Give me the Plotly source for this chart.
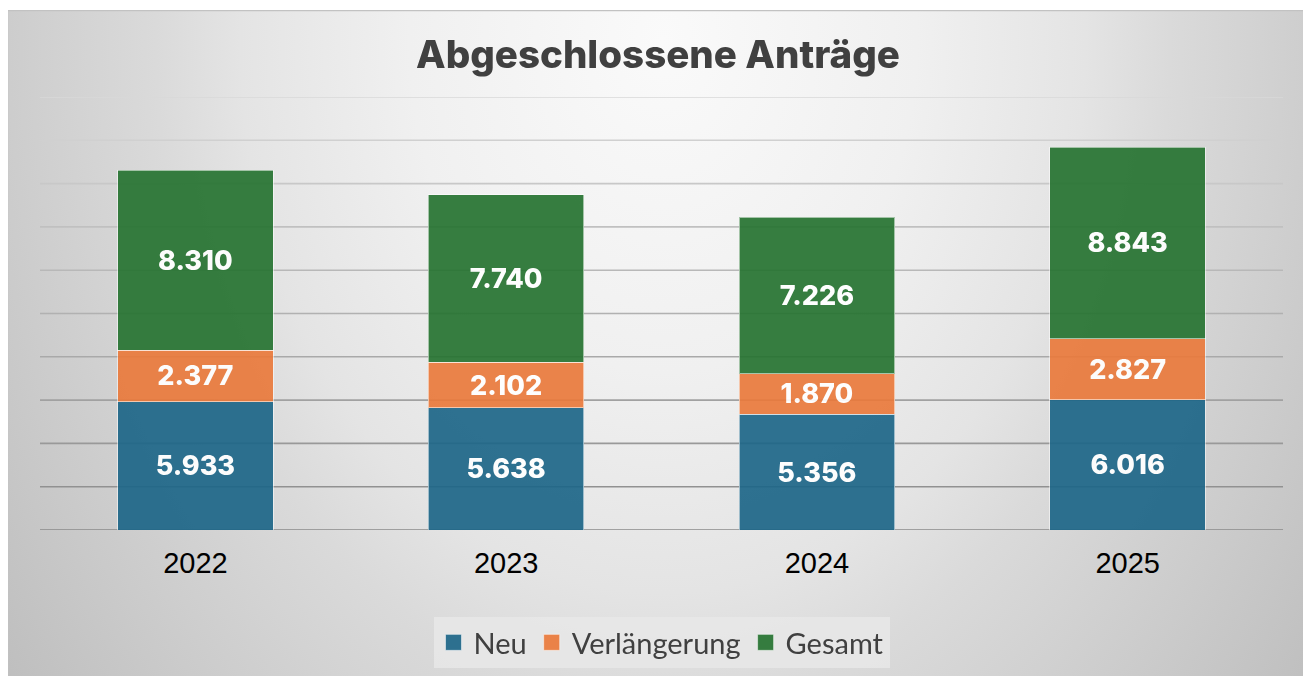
import base64
import plotly.graph_objects as go

# ── Daten ────────────────────────────────────────────────────────────────────
JAHRE = ["2022", "2023", "2024", "2025"]
NEU = [5933, 5638, 5356, 6016]
VERLAENGERUNG = [2377, 2102, 1870, 2827]
GESAMT = [8310, 7740, 7226, 8843]

GRID_TICKS = list(range(0, 20001, 2000))

FARBEN = {"Neu": "#1d6688", "Verlängerung": "#ea7a3b", "Gesamt": "#267331"}

# ── Hintergrund (radialer Verlauf wie im Original) ───────────────────────────
svg = (
    "<svg xmlns='http://www.w3.org/2000/svg' width='1304' height='666' "
    "viewBox='0 0 1304 666' preserveAspectRatio='none'>"
    "<defs><radialGradient id='g' gradientUnits='userSpaceOnUse' cx='652' cy='30' r='840' "
    "gradientTransform='translate(652,30) scale(1,1.3) translate(-652,-30)'>"
    "<stop offset='0' stop-color='#fafafa'/>"
    "<stop offset='0.3' stop-color='#f0f0f0'/>"
    "<stop offset='0.5' stop-color='#e4e4e4'/>"
    "<stop offset='0.6' stop-color='#dadada'/>"
    "<stop offset='0.8' stop-color='#cbcbcb'/>"
    "<stop offset='1' stop-color='#bcbcbc'/>"
    "</radialGradient></defs>"
    "<rect width='1304' height='666' fill='url(#g)'/>"
    "<path d='M0.5,666V0.5H1304' stroke='#c2c2c2' stroke-width='1.5' fill='none'/>"
    "</svg>"
)
bg_src = "data:image/svg+xml;base64," + base64.b64encode(svg.encode()).decode()

# Plotbereich in Pixeln (Seite hat 8px Rand, daher verschoben)
L, R, T, B = 32, 36, 89, 154
W, H = 1311, 676
pw, ph = W - L - R, H - T - B

fig = go.Figure()

for name, werte in [("Neu", NEU), ("Verlängerung", VERLAENGERUNG), ("Gesamt", GESAMT)]:
    fig.add_trace(go.Bar(
        x=JAHRE, y=werte, name=name, legendgroup=name, showlegend=False,
        marker=dict(color=FARBEN[name], line=dict(color="rgba(255,255,255,0.55)", width=1)),
        opacity=0.92,
        texttemplate="%{y:,.0f}",
        textposition="inside",
        insidetextanchor="middle",
        textangle=0,
        textfont=dict(family="Inter", size=27, color="white", weight=800),
    ))

# Legendeneinträge mit größeren Quadraten
for name in ["Neu", "Verlängerung", "Gesamt"]:
    fig.add_trace(go.Scatter(
        x=[None], y=[None], mode="markers", name=name, legendgroup=name,
        marker=dict(symbol="square", size=16, color=FARBEN[name], opacity=0.92,
                    line=dict(color="rgba(255,255,255,0.5)", width=1)),
    ))

# Gitterlinien: unten dunkler, oben heller
n = len(GRID_TICKS) - 1
for i, v in enumerate(GRID_TICKS):
    f = i / n
    c = int(0x8a + (0xd8 - 0x8a) * f)
    fig.add_shape(
        type="line", xref="paper", yref="y", x0=0, x1=1, y0=v, y1=v,
        line=dict(color=f"rgb({c},{c},{c})", width=1.6), layer="below",
    )

fig.add_layout_image(
    source=bg_src, xref="paper", yref="paper",
    x=(-1 - L) / pw, y=(H - B - 2) / ph,
    sizex=(W + 1) / pw, sizey=(H - 2) / ph,
    xanchor="left", yanchor="top", sizing="stretch", layer="below",
)

fig.update_layout(
    width=W, height=H,
    margin=dict(l=L, r=R, t=T, b=B, pad=0),
    barmode="stack",
    bargap=0.5,
    separators=",.",
    paper_bgcolor="white",
    plot_bgcolor="rgba(0,0,0,0)",
    title=dict(
        text="Abgeschlossene Anträge",
        x=(658 - 8) / W, xanchor="center", y=1 - 47 / H, yanchor="middle",
        font=dict(family="Inter", size=38.5, color="#404040", weight=800),
    ),
    xaxis=dict(
        showgrid=False, showline=False, zeroline=False, ticks="",
        tickfont=dict(family="Liberation Sans", size=29, color="black"),
        ticklabelstandoff=13,
    ),
    yaxis=dict(
        range=[0, 20000], showgrid=False, zeroline=False,
        showticklabels=False, ticks="",
    ),
    legend=dict(
        orientation="h", x=0.5, xanchor="center", y=(H - B - 609) / ph, yanchor="top",
        bgcolor="rgba(232,232,232,0.85)",
        font=dict(family="Lato", size=29, color="#404040"),
        traceorder="normal",
        itemwidth=30,
    ),
    showlegend=True,
)

fig.write_html("out.html")
